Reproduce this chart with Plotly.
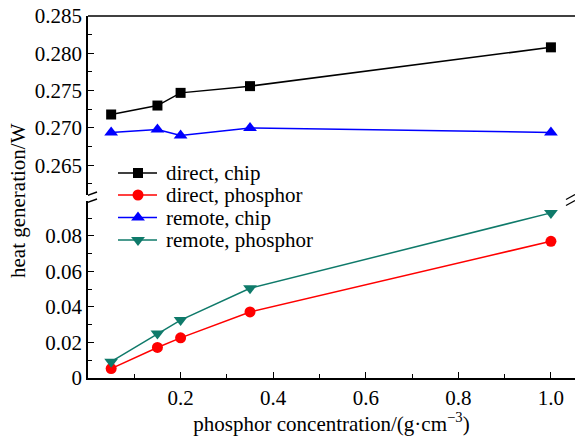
import plotly.graph_objects as go

conc = [0.05, 0.15, 0.2, 0.35, 1.0]
direct_chip = [0.2718, 0.2730, 0.2747, 0.2756, 0.2808]
remote_chip = [0.2694, 0.2698, 0.2690, 0.2700, 0.2694]
direct_phosphor = [0.0053, 0.0172, 0.0226, 0.0372, 0.0770]
remote_phosphor = [0.0092, 0.0250, 0.0326, 0.0505, 0.0930]

series_names = ["direct, chip", "direct, phosphor", "remote, chip", "remote, phosphor"]

FONT = "Liberation Serif"
FS = 21
TEAL = "#0f7a6a"
styles = [
    dict(color="black", symbol="square", size=10),
    dict(color="red", symbol="circle", size=11),
    dict(color="blue", symbol="triangle-up", size=12),
    dict(color=TEAL, symbol="triangle-down", size=12),
]
data = [direct_chip, direct_phosphor, remote_chip, remote_phosphor]
yaxes = ["y2", "y", "y2", "y"]

fig = go.Figure()
for name, vals, st, ya in zip(series_names, data, styles, yaxes):
    fig.add_trace(go.Scatter(x=conc, y=vals, name=name, yaxis=ya, xaxis="x",
                             mode="lines+markers", showlegend=False,
                             line=dict(color=st["color"], width=1.5),
                             marker=dict(symbol=st["symbol"], size=st["size"], color=st["color"])))

# manual legend (pixel-like overlay axes)
leg_y = [173, 195, 217.5, 240]
for name, st, yy in zip(series_names, styles, leg_y):
    fig.add_trace(go.Scatter(x=[118, 157], y=[yy, yy], xaxis="x2", yaxis="y3", mode="lines",
                             showlegend=False, hoverinfo="skip",
                             line=dict(color=st["color"], width=1.5)))
    fig.add_trace(go.Scatter(x=[138], y=[yy], xaxis="x2", yaxis="y3", mode="markers",
                             showlegend=False, hoverinfo="skip",
                             marker=dict(symbol=st["symbol"], size=st["size"], color=st["color"])))
    fig.add_annotation(text=name, xref="x2", yref="y3", x=164, y=yy, xanchor="left",
                       yanchor="middle", showarrow=False, font=dict(family=FONT, size=FS, color="black"))

axcommon = dict(showline=True, linecolor="black", linewidth=1.5, ticks="inside",
                tickcolor="black", tickwidth=1.2, ticklen=6, showgrid=False, zeroline=False,
                tickfont=dict(family=FONT, size=FS, color="black"))
minor_common = dict(ticks="inside", ticklen=4, tickcolor="black", tickwidth=1.2)

fig.update_layout(
    width=575, height=436,
    margin=dict(l=88, r=0, t=16, b=58),
    paper_bgcolor="white", plot_bgcolor="rgba(0,0,0,0)",
    font=dict(family=FONT, size=FS, color="black"),
    showlegend=False,
    xaxis=dict(range=[0, 1.052], tickvals=[0.2, 0.4, 0.6, 0.8, 1.0],
               ticktext=["0.2", "0.4", "0.6", "0.8", "1.0"],
               minor=dict(tickvals=[0.1, 0.3, 0.5, 0.7, 0.9], **minor_common),
               title=dict(text="phosphor concentration/(g·cm<sup>−3</sup>)",
                          font=dict(family=FONT, size=FS), standoff=3),
               **axcommon),
    yaxis=dict(domain=[0, 0.4890], range=[0, 0.0997], tickvals=[0, 0.02, 0.04, 0.06, 0.08],
               ticktext=["0", "0.02", "0.04", "0.06", "0.08"],
               minor=dict(tickvals=[0.01, 0.03, 0.05, 0.07, 0.09], **minor_common),
               **axcommon),
    yaxis2=dict(domain=[0.5055, 1], range=[0.26101, 0.285],
                tickvals=[0.265, 0.270, 0.275, 0.280, 0.285],
                ticktext=["0.265", "0.270", "0.275", "0.280", "0.285"],
                minor=dict(tickvals=[0.2625, 0.2675, 0.2725, 0.2775, 0.2825], **minor_common),
                anchor="x", **axcommon),
    xaxis2=dict(domain=[0, 1], range=[88, 575], visible=False, overlaying="x", anchor="y3",
                fixedrange=True),
    yaxis3=dict(domain=[0, 1], range=[378, 16], visible=False, anchor="x2",
                fixedrange=True),
)

# y title
fig.add_annotation(text="heat generation/W", xref="paper", yref="paper",
                   x=-0.145, y=0.49, textangle=-90, showarrow=False,
                   font=dict(family=FONT, size=FS), xanchor="center", yanchor="middle")

# top border
fig.add_shape(type="line", xref="paper", yref="paper", x0=0, x1=1, y0=1, y1=1,
              line=dict(color="black", width=1.5))

# break marks (overlay pixel axes)
for cy in [195.5, 202.5]:
    fig.add_shape(type="line", xref="x2", yref="y3", x0=78, x1=97, y0=cy + 3.5, y1=cy - 3.5,
                  line=dict(color="black", width=1.5))
for cy in [197, 203]:
    fig.add_shape(type="line", xref="x2", yref="y3", x0=566, x1=575, y0=cy + 2.5, y1=cy - 2.5,
                  line=dict(color="black", width=1.2))

fig.write_html("out.html", config=dict(displayModeBar=False),
               post_script="document.body.style.margin='0';document.body.style.overflow='hidden';")
